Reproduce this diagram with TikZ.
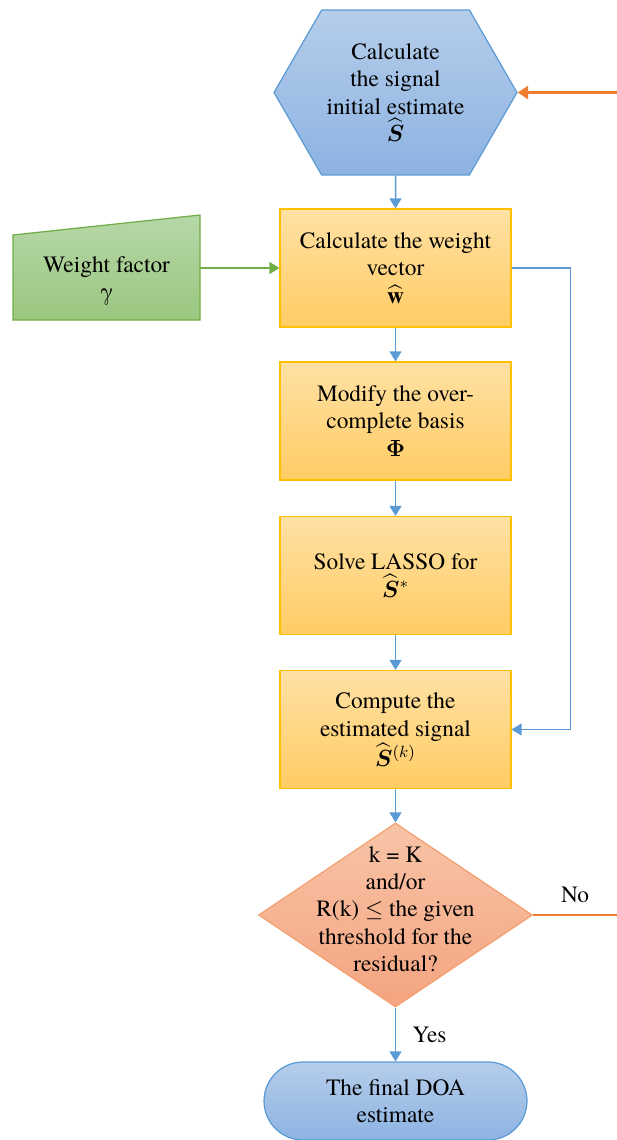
\documentclass[tikz,border=0pt]{standalone}
\usepackage{fix-cm}
\usepackage{amsmath}
\usepackage{fontspec}
\setmainfont{texgyretermes}[Extension=.otf, UprightFont=*-regular, BoldFont=*-bold,
    ItalicFont=*-italic, BoldItalicFont=*-bolditalic]
\usetikzlibrary{arrows.meta,shapes.geometric,shapes.symbols}
\definecolor{lineblue}{RGB}{91,155,213}
\definecolor{bluetop}{RGB}{181,205,234}
\definecolor{bluebot}{RGB}{141,179,226}
\definecolor{boxline}{RGB}{255,192,0}
\definecolor{boxtop}{RGB}{255,225,164}
\definecolor{boxbot}{RGB}{255,204,100}
\definecolor{greenline}{RGB}{112,173,71}
\definecolor{greentop}{RGB}{182,215,168}
\definecolor{greenbot}{RGB}{155,199,128}
\definecolor{lineorange}{RGB}{237,125,49}
\definecolor{decline}{RGB}{244,160,112}
\definecolor{dectop}{RGB}{248,196,167}
\definecolor{decbot}{RGB}{244,164,128}

\begin{document}
\begin{tikzpicture}[x=0.02cm,y=-0.02cm,
    every node/.style={font=\fontsize{13.3}{15.6}\selectfont, align=center},
    flow/.style={draw=lineblue, line width=0.85pt, -{Triangle[width=6.8pt,length=5.7pt]}},
    loopline/.style={draw=lineorange, line width=1.5pt},
    hexbox/.style={signal, signal to=west and east, signal pointer angle=120,
        draw=lineblue, line width=0.7pt, top color=bluetop, bottom color=bluebot,
        minimum width=4.86cm, minimum height=3.3cm, inner sep=0pt},
    procbox/.style={rectangle, draw=boxline, line width=0.7pt, top color=boxtop, bottom color=boxbot,
        minimum width=4.62cm, minimum height=2.36cm, inner sep=0pt},
    decision/.style={diamond, draw=decline, line width=0.7pt, top color=dectop, bottom color=decbot,
        minimum width=5.48cm, minimum height=3.68cm, inner sep=0pt},
    endbox/.style={rectangle, rounded corners=0.78cm, draw=lineblue, line width=0.7pt,
        top color=bluetop, bottom color=bluebot, minimum width=5.26cm, minimum height=1.56cm}]
    \useasboundingbox (0,0) rectangle (617,1140);

    % main column
    \node[hexbox] (init) at (395.5,92.5) {Calculate\\the signal\\initial estimate\\$\widehat{\boldsymbol{S}}$};
    \node[procbox] (wvec) at (395.5,268) {Calculate the weight\\vector\\$\widehat{\mathbf{w}}$};
    \node[procbox] (basis) at (395.5,421) {Modify the over-\\complete basis\\$\boldsymbol{\Phi}$};
    \node[procbox] (lasso) at (395.5,575.5) {Solve LASSO for\\$\widehat{\boldsymbol{S}}{}^{*}$};
    \node[procbox] (estim) at (395.5,729.5) {Compute the\\estimated signal\\$\widehat{\boldsymbol{S}}{}^{(k)}$};
    \node[decision] (check) at (395.5,915) {};
    \node (checktext) at (395.5,909) {k = K\\and/or\\R(k) $\leq$ the given\\threshold for the\\residual?};
    \node[endbox] (doa) at (395.5,1101) {The final DOA\\estimate};

    % weight factor input
    \shade[draw=greenline, line width=0.7pt, top color=greentop, bottom color=greenbot]
        (13,235) -- (200,215) -- (200,320) -- (13,320) -- cycle;
    \node[minimum width=3.74cm, minimum height=1.7cm, inner sep=0pt] (wfac) at (106.5,281) {Weight factor\\γ};

    % connectors
    \draw[flow] (init) -- (wvec);
    \draw[flow] (wvec) -- (basis);
    \draw[flow] (basis) -- (lasso);
    \draw[flow] (lasso) -- (estim);
    \draw[flow] (estim) -- (check);
    \draw[flow] (check) -- node[right=6pt] {Yes} (doa);
    \draw[flow, draw=greenline] (wfac.east |- wvec.west) -- (wvec.west);
    \draw[flow] (wvec.east) -- ++(59,0) |- (estim.east);

    % loop back
    \coordinate (noout) at (617,915);
    \coordinate (loopin) at (617,92.5);
    \draw[loopline] (check.east) -- node[above=3pt] {No} (noout);
    \draw[loopline, -{Triangle[width=7.5pt,length=6pt]}] (loopin) -- (init.east);
\end{tikzpicture}
\end{document}
